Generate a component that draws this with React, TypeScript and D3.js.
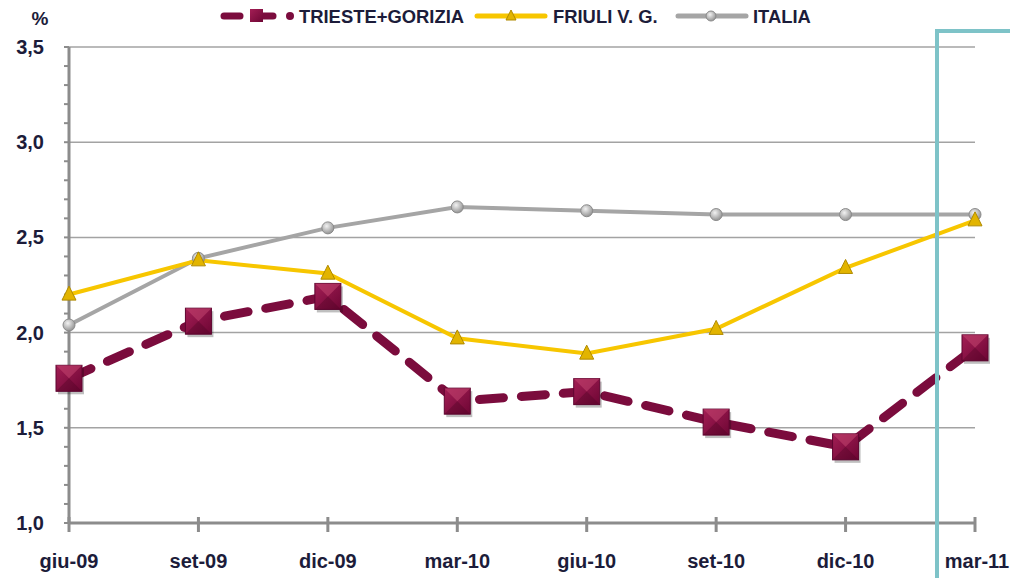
import React from "react";
import * as d3 from "d3";

const months = ["giu-09", "set-09", "dic-09", "mar-10", "giu-10", "set-10", "dic-10", "mar-11"];
const triesteGorizia = [1.76, 2.06, 2.19, 1.64, 1.69, 1.53, 1.4, 1.92];
const friuli = [2.2, 2.38, 2.31, 1.97, 1.89, 2.02, 2.34, 2.59];
const italia = [2.04, 2.39, 2.55, 2.66, 2.64, 2.62, 2.62, 2.62];
const yTicks = [1.0, 1.5, 2.0, 2.5, 3.0, 3.5];

const W = 1010;
const H = 578;
const FONT = "'Liberation Sans Narrow', 'Arial Narrow', 'Liberation Sans', sans-serif";
const TXT = "#1c1c3a";
const MAROON = "#7b0c3d";
const GOLD = "#f7c600";
const GREY = "#a5a5a5";

export default function App() {
  const x = d3.scalePoint<string>().domain(months).range([69, 975]);
  const y = d3.scaleLinear().domain([1, 3.5]).range([523, 47]);
  const minor = d3.range(10, 36).map((v) => v / 10);

  const line = (vals: number[]) =>
    d3.line<number>().x((d, i) => x(months[i]) as number).y((d) => y(d))(vals) as string;

  const square = (cx: number, cy: number, s: number, key: string) => (
    <g key={key}>
      <rect x={cx - s / 2 + 2} y={cy - s / 2 + 3} width={s} height={s} fill="#000" opacity={0.25} />
      <rect x={cx - s / 2} y={cy - s / 2} width={s} height={s} fill="url(#sqGrad)" stroke="#5e0530" strokeWidth={1} />
      <polygon
        points={`${cx - s / 2},${cy - s / 2} ${cx + s / 2},${cy - s / 2} ${cx},${cy}`}
        fill="#c2466f"
        opacity={0.55}
      />
      <polygon
        points={`${cx - s / 2},${cy + s / 2} ${cx + s / 2},${cy + s / 2} ${cx},${cy}`}
        fill="#4a0222"
        opacity={0.35}
      />
    </g>
  );

  const triangle = (cx: number, cy: number, s: number, key: string) => (
    <polygon
      key={key}
      points={`${cx},${cy - s * 0.6} ${cx - s / 2},${cy + s * 0.4} ${cx + s / 2},${cy + s * 0.4}`}
      fill="#e2b400"
      stroke="#b08a00"
      strokeWidth={1}
    />
  );

  const circle = (cx: number, cy: number, r: number, key: string) => (
    <circle key={key} cx={cx} cy={cy} r={r} fill="url(#cGrad)" stroke="#8a8a8a" strokeWidth={1} />
  );

  return (
    <svg width={W} height={H} style={{ position: "absolute", left: 0, top: 0, background: "#fff" }}>
      <defs>
        <linearGradient id="sqGrad" x1="0" y1="0" x2="1" y2="1">
          <stop offset="0" stopColor="#a31e55" />
          <stop offset="1" stopColor="#6e0634" />
        </linearGradient>
        <radialGradient id="cGrad" cx="0.4" cy="0.35" r="0.7">
          <stop offset="0" stopColor="#f2f2f2" />
          <stop offset="1" stopColor="#8d8d8d" />
        </radialGradient>
      </defs>

      {/* gridlines */}
      {yTicks.slice(1).map((t) => (
        <line key={"g" + t} x1={69} x2={975} y1={y(t)} y2={y(t)} stroke="#a3a3a3" strokeWidth={1.5} />
      ))}

      {/* y axis */}
      <line x1={69} x2={69} y1={y(3.5)} y2={y(1)} stroke="#8c8c8c" strokeWidth={3} />
      {minor.map((t) => (
        <line key={"m" + t} x1={64} x2={69} y1={y(t)} y2={y(t)} stroke="#8c8c8c" strokeWidth={2} />
      ))}
      {yTicks.map((t) => (
        <text
          key={"yl" + t}
          x={44}
          y={y(t)}
          textAnchor="end"
          dominantBaseline="central"
          fontFamily={FONT}
          fontWeight="bold"
          fontSize={20}
          fill={TXT}
        >
          {d3.format(".1f")(t).replace(".", ",")}
        </text>
      ))}
      <text x={40} y={18} textAnchor="middle" dominantBaseline="central" fontFamily={FONT} fontWeight="bold" fontSize={19} fill={TXT}>
        %
      </text>

      {/* x axis */}
      <line x1={69} x2={975} y1={y(1)} y2={y(1)} stroke="#8c8c8c" strokeWidth={3} />
      {months.map((m) => (
        <g key={"x" + m}>
          <line x1={x(m)} x2={x(m)} y1={y(1) - 6} y2={y(1) + 9} stroke="#8c8c8c" strokeWidth={3} />
          <text
            x={(x(m) as number) + (m === "mar-11" ? 2 : 0)}
            y={561}
            textAnchor="middle"
            dominantBaseline="central"
            fontFamily={FONT}
            fontWeight="bold"
            fontSize={20}
            fill={TXT}
          >
            {m}
          </text>
        </g>
      ))}

      {/* series */}
      <path d={line(italia)} fill="none" stroke={GREY} strokeWidth={4} />
      <path d={line(friuli)} fill="none" stroke={GOLD} strokeWidth={4} />
      <path
        d={line(triesteGorizia)}
        fill="none"
        stroke={MAROON}
        strokeWidth={9}
        strokeDasharray="24 18"
        strokeLinecap="round"
      />
      {italia.map((v, i) => circle(x(months[i]) as number, y(v), 6, "c" + i))}
      {friuli.map((v, i) => triangle(x(months[i]) as number, y(v), 14, "t" + i))}
      {triesteGorizia.map((v, i) => square(x(months[i]) as number, y(v), 26, "s" + i))}

      {/* highlight box */}
      <rect x={937} y={31} width={100} height={600} fill="none" stroke="#7ec3c8" strokeWidth={4} />

      {/* legend */}
      <g>
        <line x1={224} x2={240} y1={16} y2={16} stroke={MAROON} strokeWidth={7} strokeLinecap="round" />
        <line x1={262} x2={273} y1={16} y2={16} stroke={MAROON} strokeWidth={7} strokeLinecap="round" />
        <rect x={250} y={9} width={13} height={13} fill="url(#sqGrad)" />
        <circle cx={290} cy={16} r={4} fill={MAROON} />
        <text x={299} y={16} dominantBaseline="central" fontFamily={FONT} fontWeight="bold" fontSize={18.4} fill={TXT}>
          TRIESTE+GORIZIA
        </text>

        <line x1={477} x2={545} y1={16} y2={16} stroke={GOLD} strokeWidth={5} strokeLinecap="round" />
        {triangle(511, 16, 10, "lt")}
        <text x={553} y={16} dominantBaseline="central" fontFamily={FONT} fontWeight="bold" fontSize={18.4} fill={TXT}>
          FRIULI V. G.
        </text>

        <line x1={678} x2={746} y1={16} y2={16} stroke={GREY} strokeWidth={5} strokeLinecap="round" />
        {circle(711, 16, 5, "lc")}
        <text x={753} y={16} dominantBaseline="central" fontFamily={FONT} fontWeight="bold" fontSize={18.4} fill={TXT}>
          ITALIA
        </text>
      </g>
    </svg>
  );
}
